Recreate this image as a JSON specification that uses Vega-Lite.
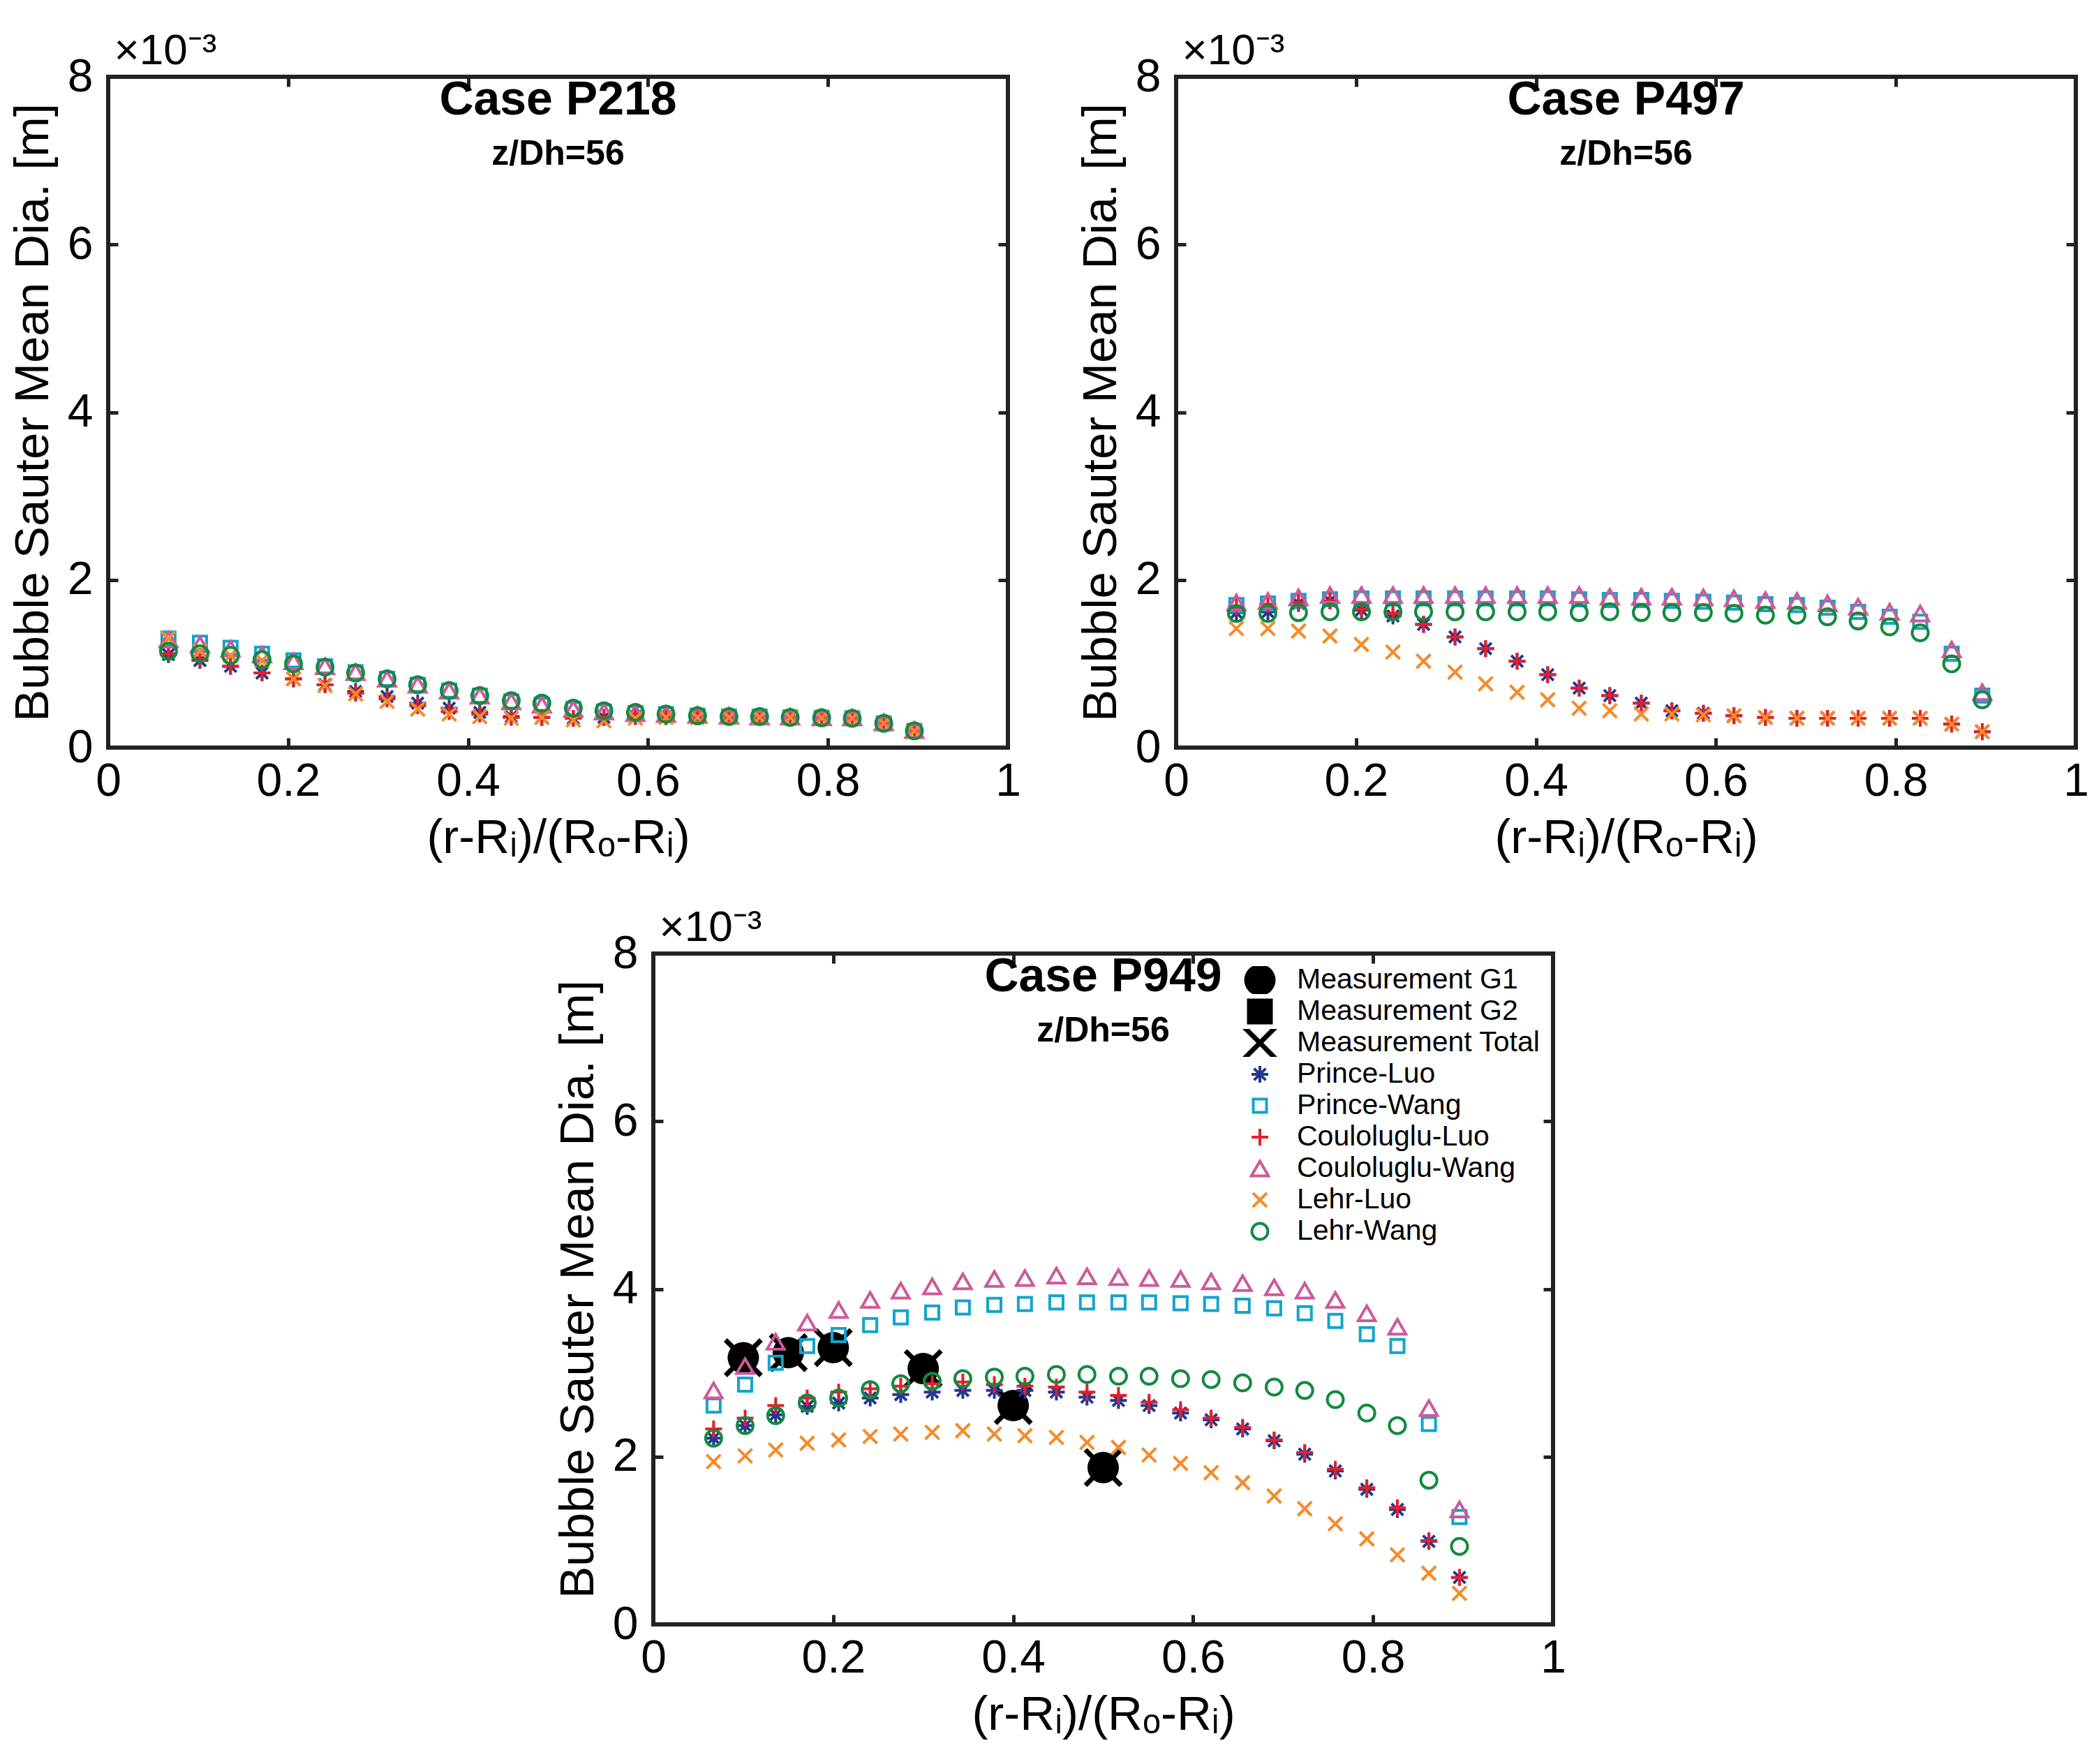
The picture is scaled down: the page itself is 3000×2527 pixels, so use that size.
{
"$schema": "https://vega.github.io/schema/vega-lite/v6.json",
"background": "white",
"padding": {"left": 10, "top": 38, "right": 10, "bottom": 10},
"config": {
  "font": "Liberation Sans",
  "view": {"stroke": "#222", "strokeWidth": 6},
  "axis": {"domain": false, "grid": false, "tickColor": "#222", "tickWidth": 5, "tickSize": -14, "labelFontSize": 66, "labelColor": "#000", "labelFont": "Liberation Sans", "labelPadding": 36, "labelFlush": false, "labelOverlap": false, "titleFontSize": 69, "titleFontWeight": "normal", "titleColor": "#000", "titleFont": "Liberation Sans", "titlePadding": 14},
  "axisX": {"labelPadding": 30}
},
"datasets": {
  "p218": [
    {"series":"Prince-Luo","x":0.067,"dia":1.11},{"series":"Prince-Luo","x":0.102,"dia":1.04},{"series":"Prince-Luo","x":0.136,"dia":0.97},{"series":"Prince-Luo","x":0.171,"dia":0.89},{"series":"Prince-Luo","x":0.206,"dia":0.82},{"series":"Prince-Luo","x":0.241,"dia":0.75},{"series":"Prince-Luo","x":0.275,"dia":0.67},{"series":"Prince-Luo","x":0.310,"dia":0.61},{"series":"Prince-Luo","x":0.344,"dia":0.53},{"series":"Prince-Luo","x":0.379,"dia":0.47},{"series":"Prince-Luo","x":0.413,"dia":0.42},{"series":"Prince-Luo","x":0.448,"dia":0.37},{"series":"Prince-Luo","x":0.482,"dia":0.36},{"series":"Prince-Luo","x":0.517,"dia":0.35},{"series":"Prince-Luo","x":0.551,"dia":0.36},{"series":"Prince-Luo","x":0.586,"dia":0.37},{"series":"Prince-Luo","x":0.620,"dia":0.37},{"series":"Prince-Luo","x":0.655,"dia":0.37},{"series":"Prince-Luo","x":0.690,"dia":0.37},{"series":"Prince-Luo","x":0.724,"dia":0.37},{"series":"Prince-Luo","x":0.758,"dia":0.36},{"series":"Prince-Luo","x":0.793,"dia":0.355},{"series":"Prince-Luo","x":0.827,"dia":0.35},{"series":"Prince-Luo","x":0.862,"dia":0.29},{"series":"Prince-Luo","x":0.896,"dia":0.20},
    {"series":"Prince-Wang","x":0.067,"dia":1.30},{"series":"Prince-Wang","x":0.102,"dia":1.25},{"series":"Prince-Wang","x":0.136,"dia":1.19},{"series":"Prince-Wang","x":0.171,"dia":1.12},{"series":"Prince-Wang","x":0.206,"dia":1.04},{"series":"Prince-Wang","x":0.241,"dia":0.97},{"series":"Prince-Wang","x":0.275,"dia":0.90},{"series":"Prince-Wang","x":0.310,"dia":0.82},{"series":"Prince-Wang","x":0.344,"dia":0.75},{"series":"Prince-Wang","x":0.379,"dia":0.68},{"series":"Prince-Wang","x":0.413,"dia":0.62},{"series":"Prince-Wang","x":0.448,"dia":0.55},{"series":"Prince-Wang","x":0.482,"dia":0.51},{"series":"Prince-Wang","x":0.517,"dia":0.46},{"series":"Prince-Wang","x":0.551,"dia":0.43},{"series":"Prince-Wang","x":0.586,"dia":0.41},{"series":"Prince-Wang","x":0.620,"dia":0.40},{"series":"Prince-Wang","x":0.655,"dia":0.38},{"series":"Prince-Wang","x":0.690,"dia":0.37},{"series":"Prince-Wang","x":0.724,"dia":0.37},{"series":"Prince-Wang","x":0.758,"dia":0.36},{"series":"Prince-Wang","x":0.793,"dia":0.355},{"series":"Prince-Wang","x":0.827,"dia":0.35},{"series":"Prince-Wang","x":0.862,"dia":0.29},{"series":"Prince-Wang","x":0.896,"dia":0.20},
    {"series":"Couloluglu-Luo","x":0.067,"dia":1.12},{"series":"Couloluglu-Luo","x":0.102,"dia":1.05},{"series":"Couloluglu-Luo","x":0.136,"dia":0.97},{"series":"Couloluglu-Luo","x":0.171,"dia":0.89},{"series":"Couloluglu-Luo","x":0.206,"dia":0.82},{"series":"Couloluglu-Luo","x":0.241,"dia":0.75},{"series":"Couloluglu-Luo","x":0.275,"dia":0.65},{"series":"Couloluglu-Luo","x":0.310,"dia":0.58},{"series":"Couloluglu-Luo","x":0.344,"dia":0.50},{"series":"Couloluglu-Luo","x":0.379,"dia":0.43},{"series":"Couloluglu-Luo","x":0.413,"dia":0.40},{"series":"Couloluglu-Luo","x":0.448,"dia":0.36},{"series":"Couloluglu-Luo","x":0.482,"dia":0.36},{"series":"Couloluglu-Luo","x":0.517,"dia":0.35},{"series":"Couloluglu-Luo","x":0.551,"dia":0.36},{"series":"Couloluglu-Luo","x":0.586,"dia":0.37},{"series":"Couloluglu-Luo","x":0.620,"dia":0.37},{"series":"Couloluglu-Luo","x":0.655,"dia":0.37},{"series":"Couloluglu-Luo","x":0.690,"dia":0.37},{"series":"Couloluglu-Luo","x":0.724,"dia":0.37},{"series":"Couloluglu-Luo","x":0.758,"dia":0.36},{"series":"Couloluglu-Luo","x":0.793,"dia":0.355},{"series":"Couloluglu-Luo","x":0.827,"dia":0.35},{"series":"Couloluglu-Luo","x":0.862,"dia":0.29},{"series":"Couloluglu-Luo","x":0.896,"dia":0.20},
    {"series":"Couloluglu-Wang","x":0.067,"dia":1.29},{"series":"Couloluglu-Wang","x":0.102,"dia":1.23},{"series":"Couloluglu-Wang","x":0.136,"dia":1.18},{"series":"Couloluglu-Wang","x":0.171,"dia":1.11},{"series":"Couloluglu-Wang","x":0.206,"dia":1.03},{"series":"Couloluglu-Wang","x":0.241,"dia":0.97},{"series":"Couloluglu-Wang","x":0.275,"dia":0.90},{"series":"Couloluglu-Wang","x":0.310,"dia":0.82},{"series":"Couloluglu-Wang","x":0.344,"dia":0.75},{"series":"Couloluglu-Wang","x":0.379,"dia":0.68},{"series":"Couloluglu-Wang","x":0.413,"dia":0.62},{"series":"Couloluglu-Wang","x":0.448,"dia":0.55},{"series":"Couloluglu-Wang","x":0.482,"dia":0.51},{"series":"Couloluglu-Wang","x":0.517,"dia":0.46},{"series":"Couloluglu-Wang","x":0.551,"dia":0.43},{"series":"Couloluglu-Wang","x":0.586,"dia":0.41},{"series":"Couloluglu-Wang","x":0.620,"dia":0.40},{"series":"Couloluglu-Wang","x":0.655,"dia":0.39},{"series":"Couloluglu-Wang","x":0.690,"dia":0.38},{"series":"Couloluglu-Wang","x":0.724,"dia":0.37},{"series":"Couloluglu-Wang","x":0.758,"dia":0.37},{"series":"Couloluglu-Wang","x":0.793,"dia":0.36},{"series":"Couloluglu-Wang","x":0.827,"dia":0.36},{"series":"Couloluglu-Wang","x":0.862,"dia":0.30},{"series":"Couloluglu-Wang","x":0.896,"dia":0.21},
    {"series":"Lehr-Luo","x":0.067,"dia":1.30},{"series":"Lehr-Luo","x":0.102,"dia":1.15},{"series":"Lehr-Luo","x":0.136,"dia":1.10},{"series":"Lehr-Luo","x":0.171,"dia":1.04},{"series":"Lehr-Luo","x":0.206,"dia":0.82},{"series":"Lehr-Luo","x":0.241,"dia":0.74},{"series":"Lehr-Luo","x":0.275,"dia":0.64},{"series":"Lehr-Luo","x":0.310,"dia":0.55},{"series":"Lehr-Luo","x":0.344,"dia":0.46},{"series":"Lehr-Luo","x":0.379,"dia":0.40},{"series":"Lehr-Luo","x":0.413,"dia":0.37},{"series":"Lehr-Luo","x":0.448,"dia":0.35},{"series":"Lehr-Luo","x":0.482,"dia":0.36},{"series":"Lehr-Luo","x":0.517,"dia":0.33},{"series":"Lehr-Luo","x":0.551,"dia":0.32},{"series":"Lehr-Luo","x":0.586,"dia":0.35},{"series":"Lehr-Luo","x":0.620,"dia":0.36},{"series":"Lehr-Luo","x":0.655,"dia":0.36},{"series":"Lehr-Luo","x":0.690,"dia":0.36},{"series":"Lehr-Luo","x":0.724,"dia":0.36},{"series":"Lehr-Luo","x":0.758,"dia":0.36},{"series":"Lehr-Luo","x":0.793,"dia":0.355},{"series":"Lehr-Luo","x":0.827,"dia":0.35},{"series":"Lehr-Luo","x":0.862,"dia":0.29},{"series":"Lehr-Luo","x":0.896,"dia":0.20},
    {"series":"Lehr-Wang","x":0.067,"dia":1.15},{"series":"Lehr-Wang","x":0.102,"dia":1.12},{"series":"Lehr-Wang","x":0.136,"dia":1.10},{"series":"Lehr-Wang","x":0.171,"dia":1.05},{"series":"Lehr-Wang","x":0.206,"dia":1.00},{"series":"Lehr-Wang","x":0.241,"dia":0.96},{"series":"Lehr-Wang","x":0.275,"dia":0.89},{"series":"Lehr-Wang","x":0.310,"dia":0.82},{"series":"Lehr-Wang","x":0.344,"dia":0.75},{"series":"Lehr-Wang","x":0.379,"dia":0.68},{"series":"Lehr-Wang","x":0.413,"dia":0.62},{"series":"Lehr-Wang","x":0.448,"dia":0.56},{"series":"Lehr-Wang","x":0.482,"dia":0.53},{"series":"Lehr-Wang","x":0.517,"dia":0.47},{"series":"Lehr-Wang","x":0.551,"dia":0.44},{"series":"Lehr-Wang","x":0.586,"dia":0.42},{"series":"Lehr-Wang","x":0.620,"dia":0.40},{"series":"Lehr-Wang","x":0.655,"dia":0.38},{"series":"Lehr-Wang","x":0.690,"dia":0.37},{"series":"Lehr-Wang","x":0.724,"dia":0.37},{"series":"Lehr-Wang","x":0.758,"dia":0.36},{"series":"Lehr-Wang","x":0.793,"dia":0.355},{"series":"Lehr-Wang","x":0.827,"dia":0.35},{"series":"Lehr-Wang","x":0.862,"dia":0.29},{"series":"Lehr-Wang","x":0.896,"dia":0.20}
  ],
  "p497": [
    {"series":"Prince-Luo","x":0.067,"dia":1.61},{"series":"Prince-Luo","x":0.102,"dia":1.62},{"series":"Prince-Luo","x":0.136,"dia":1.72},{"series":"Prince-Luo","x":0.171,"dia":1.75},{"series":"Prince-Luo","x":0.206,"dia":1.64},{"series":"Prince-Luo","x":0.241,"dia":1.57},{"series":"Prince-Luo","x":0.275,"dia":1.47},{"series":"Prince-Luo","x":0.310,"dia":1.32},{"series":"Prince-Luo","x":0.344,"dia":1.18},{"series":"Prince-Luo","x":0.379,"dia":1.03},{"series":"Prince-Luo","x":0.413,"dia":0.87},{"series":"Prince-Luo","x":0.448,"dia":0.71},{"series":"Prince-Luo","x":0.482,"dia":0.62},{"series":"Prince-Luo","x":0.517,"dia":0.53},{"series":"Prince-Luo","x":0.551,"dia":0.44},{"series":"Prince-Luo","x":0.586,"dia":0.41},{"series":"Prince-Luo","x":0.620,"dia":0.38},{"series":"Prince-Luo","x":0.655,"dia":0.36},{"series":"Prince-Luo","x":0.690,"dia":0.35},{"series":"Prince-Luo","x":0.724,"dia":0.35},{"series":"Prince-Luo","x":0.758,"dia":0.35},{"series":"Prince-Luo","x":0.793,"dia":0.35},{"series":"Prince-Luo","x":0.827,"dia":0.35},{"series":"Prince-Luo","x":0.862,"dia":0.28},{"series":"Prince-Luo","x":0.896,"dia":0.19},
    {"series":"Prince-Wang","x":0.067,"dia":1.70},{"series":"Prince-Wang","x":0.102,"dia":1.72},{"series":"Prince-Wang","x":0.136,"dia":1.75},{"series":"Prince-Wang","x":0.171,"dia":1.77},{"series":"Prince-Wang","x":0.206,"dia":1.78},{"series":"Prince-Wang","x":0.241,"dia":1.78},{"series":"Prince-Wang","x":0.275,"dia":1.78},{"series":"Prince-Wang","x":0.310,"dia":1.78},{"series":"Prince-Wang","x":0.344,"dia":1.78},{"series":"Prince-Wang","x":0.379,"dia":1.78},{"series":"Prince-Wang","x":0.413,"dia":1.78},{"series":"Prince-Wang","x":0.448,"dia":1.77},{"series":"Prince-Wang","x":0.482,"dia":1.76},{"series":"Prince-Wang","x":0.517,"dia":1.76},{"series":"Prince-Wang","x":0.551,"dia":1.75},{"series":"Prince-Wang","x":0.586,"dia":1.74},{"series":"Prince-Wang","x":0.620,"dia":1.73},{"series":"Prince-Wang","x":0.655,"dia":1.71},{"series":"Prince-Wang","x":0.690,"dia":1.70},{"series":"Prince-Wang","x":0.724,"dia":1.67},{"series":"Prince-Wang","x":0.758,"dia":1.62},{"series":"Prince-Wang","x":0.793,"dia":1.56},{"series":"Prince-Wang","x":0.827,"dia":1.50},{"series":"Prince-Wang","x":0.862,"dia":1.12},{"series":"Prince-Wang","x":0.896,"dia":0.62},
    {"series":"Couloluglu-Luo","x":0.067,"dia":1.68},{"series":"Couloluglu-Luo","x":0.102,"dia":1.71},{"series":"Couloluglu-Luo","x":0.136,"dia":1.73},{"series":"Couloluglu-Luo","x":0.171,"dia":1.75},{"series":"Couloluglu-Luo","x":0.206,"dia":1.65},{"series":"Couloluglu-Luo","x":0.241,"dia":1.60},{"series":"Couloluglu-Luo","x":0.275,"dia":1.47},{"series":"Couloluglu-Luo","x":0.310,"dia":1.32},{"series":"Couloluglu-Luo","x":0.344,"dia":1.18},{"series":"Couloluglu-Luo","x":0.379,"dia":1.03},{"series":"Couloluglu-Luo","x":0.413,"dia":0.87},{"series":"Couloluglu-Luo","x":0.448,"dia":0.71},{"series":"Couloluglu-Luo","x":0.482,"dia":0.62},{"series":"Couloluglu-Luo","x":0.517,"dia":0.53},{"series":"Couloluglu-Luo","x":0.551,"dia":0.44},{"series":"Couloluglu-Luo","x":0.586,"dia":0.41},{"series":"Couloluglu-Luo","x":0.620,"dia":0.38},{"series":"Couloluglu-Luo","x":0.655,"dia":0.36},{"series":"Couloluglu-Luo","x":0.690,"dia":0.35},{"series":"Couloluglu-Luo","x":0.724,"dia":0.35},{"series":"Couloluglu-Luo","x":0.758,"dia":0.35},{"series":"Couloluglu-Luo","x":0.793,"dia":0.35},{"series":"Couloluglu-Luo","x":0.827,"dia":0.35},{"series":"Couloluglu-Luo","x":0.862,"dia":0.28},{"series":"Couloluglu-Luo","x":0.896,"dia":0.19},
    {"series":"Couloluglu-Wang","x":0.067,"dia":1.73},{"series":"Couloluglu-Wang","x":0.102,"dia":1.75},{"series":"Couloluglu-Wang","x":0.136,"dia":1.79},{"series":"Couloluglu-Wang","x":0.171,"dia":1.82},{"series":"Couloluglu-Wang","x":0.206,"dia":1.82},{"series":"Couloluglu-Wang","x":0.241,"dia":1.82},{"series":"Couloluglu-Wang","x":0.275,"dia":1.82},{"series":"Couloluglu-Wang","x":0.310,"dia":1.82},{"series":"Couloluglu-Wang","x":0.344,"dia":1.82},{"series":"Couloluglu-Wang","x":0.379,"dia":1.82},{"series":"Couloluglu-Wang","x":0.413,"dia":1.82},{"series":"Couloluglu-Wang","x":0.448,"dia":1.82},{"series":"Couloluglu-Wang","x":0.482,"dia":1.80},{"series":"Couloluglu-Wang","x":0.517,"dia":1.80},{"series":"Couloluglu-Wang","x":0.551,"dia":1.80},{"series":"Couloluglu-Wang","x":0.586,"dia":1.79},{"series":"Couloluglu-Wang","x":0.620,"dia":1.78},{"series":"Couloluglu-Wang","x":0.655,"dia":1.76},{"series":"Couloluglu-Wang","x":0.690,"dia":1.75},{"series":"Couloluglu-Wang","x":0.724,"dia":1.72},{"series":"Couloluglu-Wang","x":0.758,"dia":1.68},{"series":"Couloluglu-Wang","x":0.793,"dia":1.62},{"series":"Couloluglu-Wang","x":0.827,"dia":1.60},{"series":"Couloluglu-Wang","x":0.862,"dia":1.17},{"series":"Couloluglu-Wang","x":0.896,"dia":0.66},
    {"series":"Lehr-Luo","x":0.067,"dia":1.42},{"series":"Lehr-Luo","x":0.102,"dia":1.42},{"series":"Lehr-Luo","x":0.136,"dia":1.39},{"series":"Lehr-Luo","x":0.171,"dia":1.33},{"series":"Lehr-Luo","x":0.206,"dia":1.23},{"series":"Lehr-Luo","x":0.241,"dia":1.14},{"series":"Lehr-Luo","x":0.275,"dia":1.03},{"series":"Lehr-Luo","x":0.310,"dia":0.90},{"series":"Lehr-Luo","x":0.344,"dia":0.76},{"series":"Lehr-Luo","x":0.379,"dia":0.66},{"series":"Lehr-Luo","x":0.413,"dia":0.57},{"series":"Lehr-Luo","x":0.448,"dia":0.47},{"series":"Lehr-Luo","x":0.482,"dia":0.44},{"series":"Lehr-Luo","x":0.517,"dia":0.40},{"series":"Lehr-Luo","x":0.551,"dia":0.40},{"series":"Lehr-Luo","x":0.586,"dia":0.39},{"series":"Lehr-Luo","x":0.620,"dia":0.38},{"series":"Lehr-Luo","x":0.655,"dia":0.36},{"series":"Lehr-Luo","x":0.690,"dia":0.35},{"series":"Lehr-Luo","x":0.724,"dia":0.35},{"series":"Lehr-Luo","x":0.758,"dia":0.35},{"series":"Lehr-Luo","x":0.793,"dia":0.35},{"series":"Lehr-Luo","x":0.827,"dia":0.35},{"series":"Lehr-Luo","x":0.862,"dia":0.28},{"series":"Lehr-Luo","x":0.896,"dia":0.19},
    {"series":"Lehr-Wang","x":0.067,"dia":1.60},{"series":"Lehr-Wang","x":0.102,"dia":1.60},{"series":"Lehr-Wang","x":0.136,"dia":1.61},{"series":"Lehr-Wang","x":0.171,"dia":1.62},{"series":"Lehr-Wang","x":0.206,"dia":1.62},{"series":"Lehr-Wang","x":0.241,"dia":1.62},{"series":"Lehr-Wang","x":0.275,"dia":1.62},{"series":"Lehr-Wang","x":0.310,"dia":1.62},{"series":"Lehr-Wang","x":0.344,"dia":1.62},{"series":"Lehr-Wang","x":0.379,"dia":1.62},{"series":"Lehr-Wang","x":0.413,"dia":1.62},{"series":"Lehr-Wang","x":0.448,"dia":1.61},{"series":"Lehr-Wang","x":0.482,"dia":1.62},{"series":"Lehr-Wang","x":0.517,"dia":1.61},{"series":"Lehr-Wang","x":0.551,"dia":1.61},{"series":"Lehr-Wang","x":0.586,"dia":1.61},{"series":"Lehr-Wang","x":0.620,"dia":1.60},{"series":"Lehr-Wang","x":0.655,"dia":1.58},{"series":"Lehr-Wang","x":0.690,"dia":1.58},{"series":"Lehr-Wang","x":0.724,"dia":1.56},{"series":"Lehr-Wang","x":0.758,"dia":1.51},{"series":"Lehr-Wang","x":0.793,"dia":1.44},{"series":"Lehr-Wang","x":0.827,"dia":1.37},{"series":"Lehr-Wang","x":0.862,"dia":1.00},{"series":"Lehr-Wang","x":0.896,"dia":0.57}
  ],
  "p949": [
    {"series":"Measurement G1","x":0.1,"dia":3.18},{"series":"Measurement G1","x":0.15,"dia":3.24},{"series":"Measurement G1","x":0.2,"dia":3.30},{"series":"Measurement G1","x":0.3,"dia":3.05},{"series":"Measurement G1","x":0.4,"dia":2.61},{"series":"Measurement G1","x":0.5,"dia":1.87},
    {"series":"Measurement Total","x":0.1,"dia":3.18},{"series":"Measurement Total","x":0.15,"dia":3.24},{"series":"Measurement Total","x":0.2,"dia":3.30},{"series":"Measurement Total","x":0.3,"dia":3.05},{"series":"Measurement Total","x":0.4,"dia":2.61},{"series":"Measurement Total","x":0.5,"dia":1.87},
    {"series":"Prince-Luo","x":0.067,"dia":2.22},{"series":"Prince-Luo","x":0.102,"dia":2.37},{"series":"Prince-Luo","x":0.136,"dia":2.50},{"series":"Prince-Luo","x":0.171,"dia":2.60},{"series":"Prince-Luo","x":0.206,"dia":2.64},{"series":"Prince-Luo","x":0.241,"dia":2.70},{"series":"Prince-Luo","x":0.275,"dia":2.74},{"series":"Prince-Luo","x":0.310,"dia":2.77},{"series":"Prince-Luo","x":0.344,"dia":2.79},{"series":"Prince-Luo","x":0.379,"dia":2.79},{"series":"Prince-Luo","x":0.413,"dia":2.79},{"series":"Prince-Luo","x":0.448,"dia":2.77},{"series":"Prince-Luo","x":0.482,"dia":2.71},{"series":"Prince-Luo","x":0.517,"dia":2.67},{"series":"Prince-Luo","x":0.551,"dia":2.61},{"series":"Prince-Luo","x":0.586,"dia":2.52},{"series":"Prince-Luo","x":0.620,"dia":2.44},{"series":"Prince-Luo","x":0.655,"dia":2.33},{"series":"Prince-Luo","x":0.690,"dia":2.19},{"series":"Prince-Luo","x":0.724,"dia":2.03},{"series":"Prince-Luo","x":0.758,"dia":1.83},{"series":"Prince-Luo","x":0.793,"dia":1.61},{"series":"Prince-Luo","x":0.827,"dia":1.37},{"series":"Prince-Luo","x":0.862,"dia":0.99},{"series":"Prince-Luo","x":0.896,"dia":0.56},
    {"series":"Prince-Wang","x":0.067,"dia":2.61},{"series":"Prince-Wang","x":0.102,"dia":2.86},{"series":"Prince-Wang","x":0.136,"dia":3.12},{"series":"Prince-Wang","x":0.171,"dia":3.32},{"series":"Prince-Wang","x":0.206,"dia":3.45},{"series":"Prince-Wang","x":0.241,"dia":3.57},{"series":"Prince-Wang","x":0.275,"dia":3.66},{"series":"Prince-Wang","x":0.310,"dia":3.72},{"series":"Prince-Wang","x":0.344,"dia":3.78},{"series":"Prince-Wang","x":0.379,"dia":3.81},{"series":"Prince-Wang","x":0.413,"dia":3.82},{"series":"Prince-Wang","x":0.448,"dia":3.84},{"series":"Prince-Wang","x":0.482,"dia":3.84},{"series":"Prince-Wang","x":0.517,"dia":3.84},{"series":"Prince-Wang","x":0.551,"dia":3.84},{"series":"Prince-Wang","x":0.586,"dia":3.83},{"series":"Prince-Wang","x":0.620,"dia":3.82},{"series":"Prince-Wang","x":0.655,"dia":3.80},{"series":"Prince-Wang","x":0.690,"dia":3.77},{"series":"Prince-Wang","x":0.724,"dia":3.71},{"series":"Prince-Wang","x":0.758,"dia":3.62},{"series":"Prince-Wang","x":0.793,"dia":3.46},{"series":"Prince-Wang","x":0.827,"dia":3.32},{"series":"Prince-Wang","x":0.862,"dia":2.39},{"series":"Prince-Wang","x":0.896,"dia":1.28},
    {"series":"Couloluglu-Luo","x":0.067,"dia":2.33},{"series":"Couloluglu-Luo","x":0.102,"dia":2.46},{"series":"Couloluglu-Luo","x":0.136,"dia":2.61},{"series":"Couloluglu-Luo","x":0.171,"dia":2.70},{"series":"Couloluglu-Luo","x":0.206,"dia":2.77},{"series":"Couloluglu-Luo","x":0.241,"dia":2.81},{"series":"Couloluglu-Luo","x":0.275,"dia":2.84},{"series":"Couloluglu-Luo","x":0.310,"dia":2.87},{"series":"Couloluglu-Luo","x":0.344,"dia":2.89},{"series":"Couloluglu-Luo","x":0.379,"dia":2.86},{"series":"Couloluglu-Luo","x":0.413,"dia":2.84},{"series":"Couloluglu-Luo","x":0.448,"dia":2.83},{"series":"Couloluglu-Luo","x":0.482,"dia":2.77},{"series":"Couloluglu-Luo","x":0.517,"dia":2.73},{"series":"Couloluglu-Luo","x":0.551,"dia":2.65},{"series":"Couloluglu-Luo","x":0.586,"dia":2.56},{"series":"Couloluglu-Luo","x":0.620,"dia":2.46},{"series":"Couloluglu-Luo","x":0.655,"dia":2.35},{"series":"Couloluglu-Luo","x":0.690,"dia":2.20},{"series":"Couloluglu-Luo","x":0.724,"dia":2.05},{"series":"Couloluglu-Luo","x":0.758,"dia":1.85},{"series":"Couloluglu-Luo","x":0.793,"dia":1.63},{"series":"Couloluglu-Luo","x":0.827,"dia":1.39},{"series":"Couloluglu-Luo","x":0.862,"dia":1.00},{"series":"Couloluglu-Luo","x":0.896,"dia":0.56},
    {"series":"Couloluglu-Wang","x":0.067,"dia":2.79},{"series":"Couloluglu-Wang","x":0.102,"dia":3.08},{"series":"Couloluglu-Wang","x":0.136,"dia":3.37},{"series":"Couloluglu-Wang","x":0.171,"dia":3.60},{"series":"Couloluglu-Wang","x":0.206,"dia":3.75},{"series":"Couloluglu-Wang","x":0.241,"dia":3.87},{"series":"Couloluglu-Wang","x":0.275,"dia":3.98},{"series":"Couloluglu-Wang","x":0.310,"dia":4.03},{"series":"Couloluglu-Wang","x":0.344,"dia":4.09},{"series":"Couloluglu-Wang","x":0.379,"dia":4.12},{"series":"Couloluglu-Wang","x":0.413,"dia":4.13},{"series":"Couloluglu-Wang","x":0.448,"dia":4.16},{"series":"Couloluglu-Wang","x":0.482,"dia":4.15},{"series":"Couloluglu-Wang","x":0.517,"dia":4.14},{"series":"Couloluglu-Wang","x":0.551,"dia":4.13},{"series":"Couloluglu-Wang","x":0.586,"dia":4.12},{"series":"Couloluglu-Wang","x":0.620,"dia":4.09},{"series":"Couloluglu-Wang","x":0.655,"dia":4.07},{"series":"Couloluglu-Wang","x":0.690,"dia":4.02},{"series":"Couloluglu-Wang","x":0.724,"dia":3.98},{"series":"Couloluglu-Wang","x":0.758,"dia":3.87},{"series":"Couloluglu-Wang","x":0.793,"dia":3.71},{"series":"Couloluglu-Wang","x":0.827,"dia":3.55},{"series":"Couloluglu-Wang","x":0.862,"dia":2.58},{"series":"Couloluglu-Wang","x":0.896,"dia":1.37},
    {"series":"Lehr-Luo","x":0.067,"dia":1.94},{"series":"Lehr-Luo","x":0.102,"dia":2.01},{"series":"Lehr-Luo","x":0.136,"dia":2.08},{"series":"Lehr-Luo","x":0.171,"dia":2.16},{"series":"Lehr-Luo","x":0.206,"dia":2.20},{"series":"Lehr-Luo","x":0.241,"dia":2.24},{"series":"Lehr-Luo","x":0.275,"dia":2.27},{"series":"Lehr-Luo","x":0.310,"dia":2.29},{"series":"Lehr-Luo","x":0.344,"dia":2.31},{"series":"Lehr-Luo","x":0.379,"dia":2.27},{"series":"Lehr-Luo","x":0.413,"dia":2.25},{"series":"Lehr-Luo","x":0.448,"dia":2.23},{"series":"Lehr-Luo","x":0.482,"dia":2.17},{"series":"Lehr-Luo","x":0.517,"dia":2.11},{"series":"Lehr-Luo","x":0.551,"dia":2.02},{"series":"Lehr-Luo","x":0.586,"dia":1.92},{"series":"Lehr-Luo","x":0.620,"dia":1.81},{"series":"Lehr-Luo","x":0.655,"dia":1.69},{"series":"Lehr-Luo","x":0.690,"dia":1.53},{"series":"Lehr-Luo","x":0.724,"dia":1.38},{"series":"Lehr-Luo","x":0.758,"dia":1.20},{"series":"Lehr-Luo","x":0.793,"dia":1.02},{"series":"Lehr-Luo","x":0.827,"dia":0.83},{"series":"Lehr-Luo","x":0.862,"dia":0.61},{"series":"Lehr-Luo","x":0.896,"dia":0.37},
    {"series":"Lehr-Wang","x":0.067,"dia":2.22},{"series":"Lehr-Wang","x":0.102,"dia":2.37},{"series":"Lehr-Wang","x":0.136,"dia":2.49},{"series":"Lehr-Wang","x":0.171,"dia":2.64},{"series":"Lehr-Wang","x":0.206,"dia":2.70},{"series":"Lehr-Wang","x":0.241,"dia":2.80},{"series":"Lehr-Wang","x":0.275,"dia":2.87},{"series":"Lehr-Wang","x":0.310,"dia":2.90},{"series":"Lehr-Wang","x":0.344,"dia":2.93},{"series":"Lehr-Wang","x":0.379,"dia":2.95},{"series":"Lehr-Wang","x":0.413,"dia":2.96},{"series":"Lehr-Wang","x":0.448,"dia":2.98},{"series":"Lehr-Wang","x":0.482,"dia":2.98},{"series":"Lehr-Wang","x":0.517,"dia":2.96},{"series":"Lehr-Wang","x":0.551,"dia":2.96},{"series":"Lehr-Wang","x":0.586,"dia":2.93},{"series":"Lehr-Wang","x":0.620,"dia":2.92},{"series":"Lehr-Wang","x":0.655,"dia":2.88},{"series":"Lehr-Wang","x":0.690,"dia":2.83},{"series":"Lehr-Wang","x":0.724,"dia":2.79},{"series":"Lehr-Wang","x":0.758,"dia":2.68},{"series":"Lehr-Wang","x":0.793,"dia":2.52},{"series":"Lehr-Wang","x":0.827,"dia":2.37},{"series":"Lehr-Wang","x":0.862,"dia":1.72},{"series":"Lehr-Wang","x":0.896,"dia":0.93}
  ]
},
"spacing": 56,
"resolve": {"scale": {"shape": "independent", "fill": "independent", "stroke": "independent", "size": "independent", "strokeWidth": "independent"}},
"vconcat": [
  {
    "bounds": "flush",
    "spacing": 241,
    "resolve": {"scale": {"shape": "independent", "fill": "independent", "stroke": "independent", "size": "independent", "strokeWidth": "independent"}},
    "hconcat": [
      {
        "width": 1289, "height": 961,
        "layer": [
          {
            "data": {"name": "p218"},
            "mark": {"type": "point", "opacity": 1},
            "encoding": {
              "x": {"field": "x", "type": "quantitative", "scale": {"domain": [0, 1], "nice": false}, "axis": {"orient": "bottom", "values": [0, 0.2, 0.4, 0.6, 0.8, 1], "format": "~g", "title": "(r-Rᵢ)/(Rₒ-Rᵢ)"}},
              "y": {"field": "dia", "type": "quantitative", "scale": {"domain": [0, 8], "nice": false}, "axis": {"orient": "left", "values": [0, 2, 4, 6, 8], "format": "~g", "title": "Bubble Sauter Mean Dia. [m]"}},
              "shape": {"field": "series", "type": "nominal", "legend": null, "scale": {"domain": ["Measurement G1","Measurement G2","Measurement Total","Prince-Luo","Prince-Wang","Couloluglu-Luo","Couloluglu-Wang","Lehr-Luo","Lehr-Wang"], "range": ["circle","square","M-1,-1L1,1M-1,1L1,-1","M-1,0L1,0M0,-1L0,1M-0.7,-0.7L0.7,0.7M-0.7,0.7L0.7,-0.7","square","M-1,0L1,0M0,-1L0,1","triangle-up","M-1,-1L1,1M-1,1L1,-1","circle"]}},
              "stroke": {"field": "series", "type": "nominal", "legend": null, "scale": {"domain": ["Measurement G1","Measurement G2","Measurement Total","Prince-Luo","Prince-Wang","Couloluglu-Luo","Couloluglu-Wang","Lehr-Luo","Lehr-Wang"], "range": ["#000000","#000000","#000000","#26378F","#12A4CC","#E3202C","#CC5A9A","#F58A2A","#138A3E"]}},
              "fill": {"field": "series", "type": "nominal", "legend": null, "scale": {"domain": ["Measurement G1","Measurement G2","Measurement Total","Prince-Luo","Prince-Wang","Couloluglu-Luo","Couloluglu-Wang","Lehr-Luo","Lehr-Wang"], "range": ["#000000","#000000","transparent","transparent","transparent","transparent","transparent","transparent","transparent"]}},
              "size": {"field": "series", "type": "nominal", "legend": null, "scale": {"type": "ordinal", "domain": ["Measurement G1","Measurement G2","Measurement Total","Prince-Luo","Prince-Wang","Couloluglu-Luo","Couloluglu-Wang","Lehr-Luo","Lehr-Wang"], "range": [2025,1369,2601,576,361,576,600,400,529]}},
              "strokeWidth": {"field": "series", "type": "nominal", "legend": null, "scale": {"type": "ordinal", "domain": ["Measurement G1","Measurement G2","Measurement Total","Prince-Luo","Prince-Wang","Couloluglu-Luo","Couloluglu-Wang","Lehr-Luo","Lehr-Wang"], "range": [0,0,7,4,4,4,4,4,4]}}
            }
          },
          {
            "data": {"values": [{}]},
            "mark": {"type": "text", "fontSize": 68, "fontWeight": "bold", "align": "center", "baseline": "alphabetic", "color": "#000"},
            "encoding": {
              "x": {"datum": 0.5, "type": "quantitative", "scale": {"domain": [0, 1], "nice": false}, "axis": {"orient": "top", "values": [0, 0.2, 0.4, 0.6, 0.8, 1], "labels": false, "title": "×10⁻³", "titleAnchor": "start", "titleAlign": "left", "titleX": 8, "titleY": -19, "titleBaseline": "alphabetic", "titleFontSize": 62, "titleAngle": 0}},
              "y": {"datum": 7.55, "type": "quantitative", "scale": {"domain": [0, 8], "nice": false}, "axis": {"orient": "right", "values": [0, 2, 4, 6, 8], "labels": false, "title": null}},
              "text": {"value": "Case P218"}
            }
          },
          {
            "data": {"values": [{}]},
            "mark": {"type": "text", "fontSize": 50, "fontWeight": "bold", "align": "center", "baseline": "alphabetic", "color": "#000"},
            "encoding": {
              "x": {"datum": 0.5, "type": "quantitative", "axis": null},
              "y": {"datum": 6.95, "type": "quantitative", "axis": null},
              "text": {"value": "z/Dh=56"}
            }
          }
        ],
        "resolve": {"axis": {"x": "independent", "y": "independent"}}
      },
      {
        "width": 1289, "height": 961,
        "layer": [
          {
            "data": {"name": "p497"},
            "mark": {"type": "point", "opacity": 1},
            "encoding": {
              "x": {"field": "x", "type": "quantitative", "scale": {"domain": [0, 1], "nice": false}, "axis": {"orient": "bottom", "values": [0, 0.2, 0.4, 0.6, 0.8, 1], "format": "~g", "title": "(r-Rᵢ)/(Rₒ-Rᵢ)"}},
              "y": {"field": "dia", "type": "quantitative", "scale": {"domain": [0, 8], "nice": false}, "axis": {"orient": "left", "values": [0, 2, 4, 6, 8], "format": "~g", "title": "Bubble Sauter Mean Dia. [m]"}},
              "shape": {"field": "series", "type": "nominal", "legend": null, "scale": {"domain": ["Measurement G1","Measurement G2","Measurement Total","Prince-Luo","Prince-Wang","Couloluglu-Luo","Couloluglu-Wang","Lehr-Luo","Lehr-Wang"], "range": ["circle","square","M-1,-1L1,1M-1,1L1,-1","M-1,0L1,0M0,-1L0,1M-0.7,-0.7L0.7,0.7M-0.7,0.7L0.7,-0.7","square","M-1,0L1,0M0,-1L0,1","triangle-up","M-1,-1L1,1M-1,1L1,-1","circle"]}},
              "stroke": {"field": "series", "type": "nominal", "legend": null, "scale": {"domain": ["Measurement G1","Measurement G2","Measurement Total","Prince-Luo","Prince-Wang","Couloluglu-Luo","Couloluglu-Wang","Lehr-Luo","Lehr-Wang"], "range": ["#000000","#000000","#000000","#26378F","#12A4CC","#E3202C","#CC5A9A","#F58A2A","#138A3E"]}},
              "fill": {"field": "series", "type": "nominal", "legend": null, "scale": {"domain": ["Measurement G1","Measurement G2","Measurement Total","Prince-Luo","Prince-Wang","Couloluglu-Luo","Couloluglu-Wang","Lehr-Luo","Lehr-Wang"], "range": ["#000000","#000000","transparent","transparent","transparent","transparent","transparent","transparent","transparent"]}},
              "size": {"field": "series", "type": "nominal", "legend": null, "scale": {"type": "ordinal", "domain": ["Measurement G1","Measurement G2","Measurement Total","Prince-Luo","Prince-Wang","Couloluglu-Luo","Couloluglu-Wang","Lehr-Luo","Lehr-Wang"], "range": [2025,1369,2601,576,361,576,600,400,529]}},
              "strokeWidth": {"field": "series", "type": "nominal", "legend": null, "scale": {"type": "ordinal", "domain": ["Measurement G1","Measurement G2","Measurement Total","Prince-Luo","Prince-Wang","Couloluglu-Luo","Couloluglu-Wang","Lehr-Luo","Lehr-Wang"], "range": [0,0,7,4,4,4,4,4,4]}}
            }
          },
          {
            "data": {"values": [{}]},
            "mark": {"type": "text", "fontSize": 68, "fontWeight": "bold", "align": "center", "baseline": "alphabetic", "color": "#000"},
            "encoding": {
              "x": {"datum": 0.5, "type": "quantitative", "scale": {"domain": [0, 1], "nice": false}, "axis": {"orient": "top", "values": [0, 0.2, 0.4, 0.6, 0.8, 1], "labels": false, "title": "×10⁻³", "titleAnchor": "start", "titleAlign": "left", "titleX": 8, "titleY": -19, "titleBaseline": "alphabetic", "titleFontSize": 62, "titleAngle": 0}},
              "y": {"datum": 7.55, "type": "quantitative", "scale": {"domain": [0, 8], "nice": false}, "axis": {"orient": "right", "values": [0, 2, 4, 6, 8], "labels": false, "title": null}},
              "text": {"value": "Case P497"}
            }
          },
          {
            "data": {"values": [{}]},
            "mark": {"type": "text", "fontSize": 50, "fontWeight": "bold", "align": "center", "baseline": "alphabetic", "color": "#000"},
            "encoding": {
              "x": {"datum": 0.5, "type": "quantitative", "axis": null},
              "y": {"datum": 6.95, "type": "quantitative", "axis": null},
              "text": {"value": "z/Dh=56"}
            }
          }
        ],
        "resolve": {"axis": {"x": "independent", "y": "independent"}}
      }
    ]
  },
  {
    "bounds": "flush",
    "spacing": 0,
    "resolve": {"scale": {"shape": "independent", "fill": "independent", "stroke": "independent", "size": "independent", "strokeWidth": "independent"}},
    "hconcat": [
      {
        "width": 781, "height": 961,
        "data": {"values": []},
        "mark": {"type": "point"},
        "view": {"stroke": null, "fill": "white"}
      },
      {
        "width": 1289, "height": 961,
        "layer": [
          {
            "data": {"name": "p949"},
            "mark": {"type": "point", "opacity": 1},
            "encoding": {
              "x": {"field": "x", "type": "quantitative", "scale": {"domain": [0, 1], "nice": false}, "axis": {"orient": "bottom", "values": [0, 0.2, 0.4, 0.6, 0.8, 1], "format": "~g", "title": "(r-Rᵢ)/(Rₒ-Rᵢ)"}},
              "y": {"field": "dia", "type": "quantitative", "scale": {"domain": [0, 8], "nice": false}, "axis": {"orient": "left", "values": [0, 2, 4, 6, 8], "format": "~g", "title": "Bubble Sauter Mean Dia. [m]"}},
              "shape": {"field": "series", "type": "nominal", "legend": {"orient": "top-right", "title": null, "offset": 18, "padding": 0, "labelFontSize": 41, "labelColor": "#000", "labelLimit": 0, "labelOffset": 24, "rowPadding": 4, "clipHeight": 40}, "scale": {"domain": ["Measurement G1","Measurement G2","Measurement Total","Prince-Luo","Prince-Wang","Couloluglu-Luo","Couloluglu-Wang","Lehr-Luo","Lehr-Wang"], "range": ["circle","square","M-1,-1L1,1M-1,1L1,-1","M-1,0L1,0M0,-1L0,1M-0.7,-0.7L0.7,0.7M-0.7,0.7L0.7,-0.7","square","M-1,0L1,0M0,-1L0,1","triangle-up","M-1,-1L1,1M-1,1L1,-1","circle"]}},
              "stroke": {"field": "series", "type": "nominal", "legend": {"orient": "top-right", "title": null, "offset": 18, "padding": 0, "labelFontSize": 41, "labelColor": "#000", "labelLimit": 0, "labelOffset": 24, "rowPadding": 4, "clipHeight": 40}, "scale": {"domain": ["Measurement G1","Measurement G2","Measurement Total","Prince-Luo","Prince-Wang","Couloluglu-Luo","Couloluglu-Wang","Lehr-Luo","Lehr-Wang"], "range": ["#000000","#000000","#000000","#26378F","#12A4CC","#E3202C","#CC5A9A","#F58A2A","#138A3E"]}},
              "fill": {"field": "series", "type": "nominal", "legend": {"orient": "top-right", "title": null, "offset": 18, "padding": 0, "labelFontSize": 41, "labelColor": "#000", "labelLimit": 0, "labelOffset": 24, "rowPadding": 4, "clipHeight": 40}, "scale": {"domain": ["Measurement G1","Measurement G2","Measurement Total","Prince-Luo","Prince-Wang","Couloluglu-Luo","Couloluglu-Wang","Lehr-Luo","Lehr-Wang"], "range": ["#000000","#000000","transparent","transparent","transparent","transparent","transparent","transparent","transparent"]}},
              "size": {"field": "series", "type": "nominal", "legend": {"orient": "top-right", "title": null, "offset": 18, "padding": 0, "labelFontSize": 41, "labelColor": "#000", "labelLimit": 0, "labelOffset": 24, "rowPadding": 4, "clipHeight": 40}, "scale": {"type": "ordinal", "domain": ["Measurement G1","Measurement G2","Measurement Total","Prince-Luo","Prince-Wang","Couloluglu-Luo","Couloluglu-Wang","Lehr-Luo","Lehr-Wang"], "range": [2025,1369,2601,576,361,576,600,400,529]}},
              "strokeWidth": {"field": "series", "type": "nominal", "legend": {"orient": "top-right", "title": null, "offset": 18, "padding": 0, "labelFontSize": 41, "labelColor": "#000", "labelLimit": 0, "labelOffset": 24, "rowPadding": 4, "clipHeight": 40}, "scale": {"type": "ordinal", "domain": ["Measurement G1","Measurement G2","Measurement Total","Prince-Luo","Prince-Wang","Couloluglu-Luo","Couloluglu-Wang","Lehr-Luo","Lehr-Wang"], "range": [0,0,7,4,4,4,4,4,4]}}
            }
          },
          {
            "data": {"values": [{}]},
            "mark": {"type": "text", "fontSize": 68, "fontWeight": "bold", "align": "center", "baseline": "alphabetic", "color": "#000"},
            "encoding": {
              "x": {"datum": 0.5, "type": "quantitative", "scale": {"domain": [0, 1], "nice": false}, "axis": {"orient": "top", "values": [0, 0.2, 0.4, 0.6, 0.8, 1], "labels": false, "title": "×10⁻³", "titleAnchor": "start", "titleAlign": "left", "titleX": 8, "titleY": -19, "titleBaseline": "alphabetic", "titleFontSize": 62, "titleAngle": 0}},
              "y": {"datum": 7.55, "type": "quantitative", "scale": {"domain": [0, 8], "nice": false}, "axis": {"orient": "right", "values": [0, 2, 4, 6, 8], "labels": false, "title": null}},
              "text": {"value": "Case P949"}
            }
          },
          {
            "data": {"values": [{}]},
            "mark": {"type": "text", "fontSize": 50, "fontWeight": "bold", "align": "center", "baseline": "alphabetic", "color": "#000"},
            "encoding": {
              "x": {"datum": 0.5, "type": "quantitative", "axis": null},
              "y": {"datum": 6.95, "type": "quantitative", "axis": null},
              "text": {"value": "z/Dh=56"}
            }
          }
        ],
        "resolve": {"axis": {"x": "independent", "y": "independent"}}
      }
    ]
  }
]
}
